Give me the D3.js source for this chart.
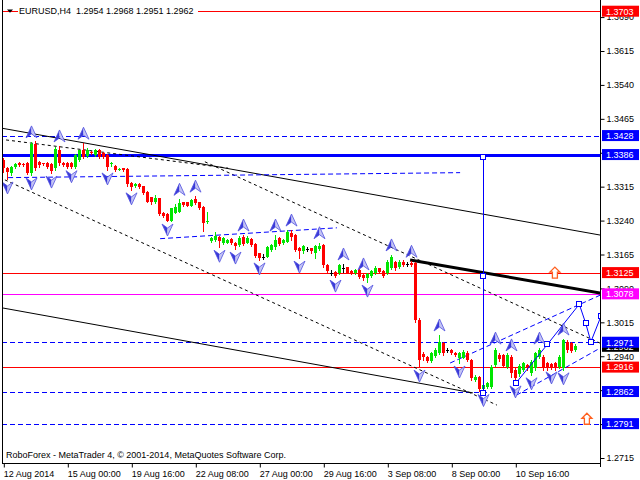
<!DOCTYPE html>
<html><head><meta charset="utf-8">
<script src="https://cdn.jsdelivr.net/npm/d3@7"></script>
<style>body{margin:0;background:#fff}svg{display:block}text{font-family:"Liberation Sans",Arial,sans-serif;font-size:9px}</style>
</head><body><svg id="c" width="640" height="480"></svg>
<script>
// ---- data (EURUSD H4, 12 Aug 2014 08:00 .. 11 Sep 2014) ----
const opens=[1.3375,1.3356,1.3345,1.3358,1.3367,1.3366,1.3367,1.3345,1.3410,1.3370,1.3367,1.3367,1.3365,1.3356,1.3395,1.3368,1.3367,1.3367,1.3359,1.3374,1.3397,1.3383,1.3392,1.3385,1.3396,1.3389,1.3385,1.3365,1.3361,1.3354,1.3356,1.3354,1.3323,1.3317,1.3321,1.3316,1.3304,1.3292,1.3280,1.3290,1.3257,1.3255,1.3240,1.3257,1.3259,1.3280,1.3280,1.3273,1.3287,1.3280,1.3271,1.3236,1.3195,1.3197,1.3204,1.3191,1.3191,1.3199,1.3191,1.3186,1.3204,1.3191,1.3200,1.3188,1.3168,1.3160,1.3160,1.3175,1.3181,1.3201,1.3190,1.3193,1.3212,1.3208,1.3179,1.3172,1.3177,1.3179,1.3168,1.3177,1.3186,1.3142,1.3125,1.3127,1.3124,1.3135,1.3137,1.3129,1.3124,1.3131,1.3119,1.3112,1.3117,1.3124,1.3135,1.3129,1.3124,1.3135,1.3149,1.3138,1.3149,1.3144,1.3147,1.3147,1.3020,1.2946,1.2938,1.2929,1.2941,1.2947,1.2969,1.2954,1.2954,1.2947,1.2937,1.2937,1.2948,1.2932,1.2888,1.2895,1.2867,1.2873,1.2873,1.2921,1.2943,1.2943,1.2917,1.2939,1.2910,1.2900,1.2910,1.2921,1.2902,1.2913,1.2939,1.2939,1.2925,1.2923,1.2925,1.2917,1.2913,1.2972,1.2969,1.2954];
const highs=[1.3378,1.3358,1.3361,1.3367,1.3369,1.3368,1.3370,1.3414,1.3415,1.3372,1.3368,1.3370,1.3367,1.3402,1.3405,1.3370,1.3370,1.3370,1.3387,1.3397,1.3411,1.3400,1.3394,1.3398,1.3398,1.3392,1.3387,1.3370,1.3363,1.3357,1.3357,1.3357,1.3325,1.3323,1.3323,1.3317,1.3305,1.3292,1.3297,1.3290,1.3259,1.3257,1.3268,1.3276,1.3287,1.3281,1.3281,1.3288,1.3294,1.3281,1.3272,1.3260,1.3204,1.3215,1.3206,1.3204,1.3199,1.3201,1.3193,1.3206,1.3208,1.3206,1.3201,1.3190,1.3168,1.3166,1.3184,1.3188,1.3208,1.3204,1.3199,1.3219,1.3219,1.3210,1.3181,1.3186,1.3181,1.3179,1.3186,1.3191,1.3188,1.3144,1.3131,1.3128,1.3144,1.3144,1.3137,1.3131,1.3133,1.3133,1.3122,1.3124,1.3131,1.3139,1.3135,1.3131,1.3153,1.3164,1.3150,1.3153,1.3153,1.3148,1.3150,1.3148,1.3025,1.2950,1.2940,1.2949,1.2958,1.2987,1.2971,1.2958,1.2956,1.2949,1.2949,1.2954,1.2952,1.2934,1.2899,1.2896,1.2879,1.2883,1.2921,1.2958,1.2947,1.2945,1.2947,1.2943,1.2914,1.2923,1.2927,1.2923,1.2932,1.2949,1.2958,1.2943,1.2927,1.2925,1.2927,1.2943,1.2978,1.2976,1.2971,1.2968];
const lows=[1.3348,1.3332,1.3341,1.3357,1.3361,1.3360,1.3343,1.3341,1.3352,1.3359,1.3363,1.3357,1.3345,1.3352,1.3363,1.3361,1.3357,1.3357,1.3357,1.3372,1.3378,1.3381,1.3387,1.3383,1.3378,1.3378,1.3352,1.3361,1.3350,1.3352,1.3350,1.3317,1.3308,1.3314,1.3312,1.3299,1.3280,1.3277,1.3279,1.3252,1.3248,1.3239,1.3239,1.3257,1.3259,1.3272,1.3272,1.3272,1.3277,1.3266,1.3218,1.3234,1.3193,1.3195,1.3181,1.3188,1.3190,1.3188,1.3177,1.3184,1.3186,1.3190,1.3184,1.3159,1.3153,1.3155,1.3159,1.3173,1.3177,1.3186,1.3188,1.3193,1.3197,1.3173,1.3157,1.3168,1.3173,1.3168,1.3157,1.3175,1.3138,1.3126,1.3119,1.3115,1.3122,1.3127,1.3124,1.3122,1.3122,1.3113,1.3108,1.3104,1.3115,1.3122,1.3124,1.3115,1.3122,1.3133,1.3131,1.3135,1.3139,1.3139,1.3139,1.3016,1.2916,1.2932,1.2927,1.2927,1.2938,1.2945,1.2943,1.2949,1.2945,1.2940,1.2925,1.2936,1.2929,1.2888,1.2885,1.2863,1.2862,1.2870,1.2870,1.2918,1.2929,1.2916,1.2914,1.2895,1.2881,1.2896,1.2907,1.2910,1.2899,1.2910,1.2936,1.2910,1.2910,1.2912,1.2910,1.2914,1.2910,1.2949,1.2949,1.2951];
const closes=[1.3356,1.3348,1.3358,1.3365,1.3363,1.3362,1.3346,1.3409,1.3356,1.3362,1.3365,1.3359,1.3350,1.3398,1.3367,1.3363,1.3358,1.3359,1.3385,1.3396,1.3381,1.3397,1.3389,1.3396,1.3381,1.3380,1.3359,1.3368,1.3352,1.3355,1.3352,1.3321,1.3315,1.3321,1.3314,1.3301,1.3282,1.3280,1.3290,1.3255,1.3250,1.3240,1.3267,1.3271,1.3278,1.3274,1.3273,1.3285,1.3278,1.3268,1.3235,1.3238,1.3201,1.3206,1.3195,1.3201,1.3197,1.3190,1.3184,1.3202,1.3188,1.3202,1.3186,1.3161,1.3157,1.3160,1.3181,1.3186,1.3197,1.3188,1.3197,1.3215,1.3203,1.3175,1.3172,1.3183,1.3177,1.3172,1.3183,1.3184,1.3142,1.3129,1.3125,1.3117,1.3142,1.3135,1.3125,1.3124,1.3131,1.3116,1.3112,1.3122,1.3129,1.3135,1.3127,1.3117,1.3149,1.3159,1.3135,1.3149,1.3142,1.3144,1.3142,1.3020,1.2931,1.2938,1.2930,1.2947,1.2954,1.2972,1.2947,1.2954,1.2947,1.2943,1.2947,1.2950,1.2932,1.2891,1.2895,1.2867,1.2876,1.2880,1.2917,1.2954,1.2934,1.2918,1.2943,1.2902,1.2892,1.2918,1.2925,1.2913,1.2928,1.2947,1.2954,1.2913,1.2913,1.2913,1.2913,1.2939,1.2976,1.2954,1.2952,1.2962];

const timeTickBars=[0,16,32,48,64,80,96,112,128];
const timeTickLabels=["12 Aug 2014","15 Aug 00:00","19 Aug 16:00","22 Aug 08:00","27 Aug 00:00","29 Aug 16:00","3 Sep 08:00","8 Sep 00:00","10 Sep 16:00"];
const priceTicks=[1.3690,1.3615,1.3540,1.3465,1.3390,1.3315,1.3240,1.3165,1.3090,1.3015,1.2940,1.2865,1.2790,1.2715];
// tick labels fully hidden behind level boxes in the reference
const hiddenTickLabels=[1.3390,1.2865,1.2790];

// horizontal levels (price) and their kinds
const levelPrices=[1.3703,1.3428,1.3386,1.3125,1.3078,1.2971,1.2916,1.2862,1.2791];
const levelKinds=["red","blueDash","blueThick","red","magenta","blueDash","red","blueDash","blueDash"];
const lastPrice=1.2962;

// fractals (bar indices)
const upFractals=[7,14,20,44,48,60,68,72,79,85,90,97,102,109,123,127,134,140];
const downFractals=[1,7,12,17,26,32,41,54,58,64,74,83,91,104,114,120,128,132,137,140];

// trend lines: [bar1, price1, bar2, price2]
const solidLines=[[-0.8,1.3445,149.2,1.3208],[-0.3,1.3047,117.4,1.2859]];
const thickLines=[[101.7,1.3153,149.2,1.3080]];
const blackDashLines=[[-0.8,1.3420,56.2,1.3356],[0.4,1.3330,123.4,1.2832],[50.4,1.3370,149.2,1.2969]];
const blueDashLines=[[1.2,1.3335,114.2,1.3346],[39.2,1.3200,83.4,1.3224],[111.7,1.2925,149.2,1.3075],[128.3,1.2854,149.2,1.2958]];

// projection (bar, price)
const projBar=120, projPrices=[1.3381,1.3118,1.2859];
const pathBars=[128.1,136,144,145.6,146.9,149.4];
const pathPrices=[1.2880,1.2966,1.3055,1.3013,1.2972,1.3028];

// signal arrows (bar, price)
const signalBars=[137.9,145.9];
const signalPrices=[1.3137,1.2814];

// ---- drawing ----
const L=2, R=600, B=463;
const svg=d3.select("#c");
const x=d3.scaleLinear().domain([0,143]).range([3.3,575.3]);
const y=d3.scaleLinear().domain([1.2715,1.3615]).range([458,51]);

svg.append("defs").append("clipPath").attr("id","plot").append("rect").attr("x",L).attr("y",0).attr("width",R-L).attr("height",B);
const g=svg.append("g").attr("clip-path","url(#plot)");

const blue="#0000ff", red="#ff0000", mag="#ff00ff";
levelPrices.forEach((p,k)=>{
  const kind=levelKinds[k];
  const ln=g.append("line").attr("x1",L).attr("x2",R).attr("y1",Math.round(y(p))+0.5).attr("y2",Math.round(y(p))+0.5);
  if(kind==="red") ln.attr("stroke",red);
  else if(kind==="magenta") ln.attr("stroke",mag);
  else if(kind==="blueDash") ln.attr("stroke",blue).attr("stroke-dasharray","5,3");
  else ln.attr("stroke",blue).attr("stroke-width",3);
});

function seg(arr,stroke,width,dash){
  arr.forEach(d=>{
    const l=g.append("line").attr("x1",x(d[0])).attr("y1",y(d[1])).attr("x2",x(d[2])).attr("y2",y(d[3]))
      .attr("stroke",stroke).attr("stroke-width",width);
    if(dash) l.attr("stroke-dasharray",dash);
  });
}
seg(solidLines,"#000",1);
seg(blackDashLines,"#000",1,"3,3");
seg(blueDashLines,blue,1,"5,3");
seg(thickLines,"#000",3);

// candles
const cg=g.append("g");
opens.forEach((o,i)=>{
  const c=closes[i], h=highs[i], lo=lows[i];
  const col=c>o?"#00e600":(c<o?red:"#000");
  const cx=Math.round(x(i));
  cg.append("line").attr("x1",cx+0.5).attr("x2",cx+0.5).attr("y1",Math.round(y(h))).attr("y2",Math.round(y(lo))+1).attr("stroke",col);
  const top=Math.round(y(Math.max(o,c))), bot=Math.round(y(Math.min(o,c)));
  cg.append("rect").attr("x",cx-1).attr("y",top).attr("width",3).attr("height",Math.max(1,bot-top)).attr("fill",col);
});

// projection
const pg=g.append("g");
pg.append("line").attr("x1",Math.round(x(projBar))+0.5).attr("x2",Math.round(x(projBar))+0.5)
  .attr("y1",y(projPrices[0])).attr("y2",y(projPrices[2])).attr("stroke",blue);
pg.append("path").attr("d",d3.line().x(d=>x(d)).y((d,k)=>y(pathPrices[k]))(pathBars)).attr("fill","none").attr("stroke",blue);
const sq=[...projPrices.map(p=>[projBar,p]),...pathBars.map((b,k)=>[b,pathPrices[k]])];
sq.forEach(d=>pg.append("rect").attr("x",Math.round(x(d[0]))-2.5).attr("y",Math.round(y(d[1]))-2.5).attr("width",5).attr("height",5).attr("fill","#fff").attr("stroke",blue));

// fractal arrows
function arrowHead(cx,cy,s){
  const apex=[cx,cy-6*s], lt=[cx-5.5,cy+6*s], rt=[cx+5.5,cy+6*s], notch=[cx,cy+2*s];
  const a=g.append("g");
  a.append("path").attr("d",`M${apex}L${lt}L${notch}Z`).attr("fill","#3a3ad8");
  a.append("path").attr("d",`M${apex}L${notch}L${rt}Z`).attr("fill","#c4c4f4");
  a.append("path").attr("d",`M${apex}L${lt}L${notch}L${rt}Z`).attr("fill","none").attr("stroke","#5050e0").attr("stroke-width",0.8);
}
upFractals.forEach(i=>arrowHead(Math.round(x(i))+0.5,y(highs[i])-10,1));
downFractals.forEach(i=>arrowHead(Math.round(x(i))+0.5,y(lows[i])+9,-1));

// signal arrows (hollow up)
signalBars.forEach((b,k)=>{
  const cx=x(b), ty=y(signalPrices[k]);
  const d=`M${cx},${ty}L${cx+5},${ty+5}L${cx+2.5},${ty+5}L${cx+2.5},${ty+11}L${cx-2.5},${ty+11}L${cx-2.5},${ty+5}L${cx-5},${ty+5}Z`;
  g.append("path").attr("d",d).attr("fill","#fff").attr("stroke","#ff6020").attr("stroke-width",1.3);
});

// frame
svg.append("line").attr("x1",L+0.5).attr("x2",L+0.5).attr("y1",0).attr("y2",B).attr("stroke","#000");
svg.append("line").attr("x1",R+0.5).attr("x2",R+0.5).attr("y1",0).attr("y2",B+4).attr("stroke","#000");
svg.append("line").attr("x1",L).attr("x2",R).attr("y1",B+0.5).attr("y2",B+0.5).attr("stroke","#000");

// price axis
const ya=svg.append("g").attr("transform",`translate(${R+0.5},0)`)
  .call(d3.axisRight(y).tickValues(priceTicks).tickSize(4).tickPadding(2)
    .tickFormat(d=>hiddenTickLabels.includes(d)?"":d3.format(".4f")(d)));
ya.select(".domain").remove();
ya.selectAll("text").attr("font-family","Liberation Sans, Arial, sans-serif").attr("font-size",9).attr("fill","#000");

// time axis
const xa=svg.append("g").attr("transform",`translate(0,${B+0.5})`)
  .call(d3.axisBottom(x).tickValues(timeTickBars).tickSize(4).tickFormat((d,k)=>timeTickLabels[k]));
xa.select(".domain").remove();
xa.selectAll(".tick line").attr("transform","translate(0.5,0)");
xa.selectAll("text").attr("text-anchor","start").attr("x",0).attr("y",13).attr("dy",0)
  .attr("font-family","Liberation Sans, Arial, sans-serif").attr("font-size",9).attr("fill","#000");

// price labels
function priceBox(p,bg){
  const cy=y(p);
  svg.append("rect").attr("x",602).attr("y",cy-5.5).attr("width",37).attr("height",11).attr("fill",bg);
  svg.append("text").attr("x",606).attr("y",cy+3.3).attr("fill","#fff").text(p.toFixed(4));
}
priceBox(lastPrice,"#000");
levelPrices.forEach((p,k)=>{
  const kind=levelKinds[k];
  priceBox(p, kind==="red"?red:(kind==="magenta"?mag:blue));
});

// title
svg.append("rect").attr("x",18).attr("y",5).attr("width",180).attr("height",11).attr("fill","#fff");
svg.append("path").attr("d","M7,9.5L13,9.5L10,12.7Z").attr("fill","#000");
svg.append("text").attr("x",19).attr("y",14).style("white-space","pre")
  .text(`EURUSD,H4  ${opens[143].toFixed(4)} ${highs[143].toFixed(4)} ${lows[143].toFixed(4)} ${closes[143].toFixed(4)}`);
svg.append("text").attr("x",6).attr("y",458).text("RoboForex - MetaTrader 4, © 2001-2014, MetaQuotes Software Corp.");
</script></body></html>
